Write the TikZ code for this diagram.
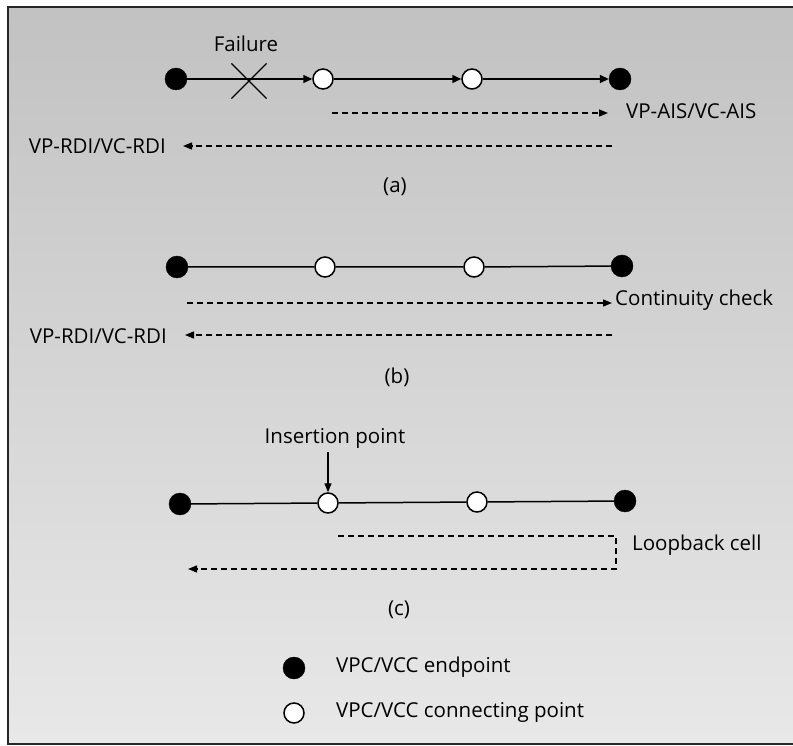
\documentclass[tikz,border=0pt]{standalone}
\usepackage{fontspec}
\setmainfont{Open Sans}
\usetikzlibrary{arrows.meta,shapes.misc}
\begin{document}
\begin{tikzpicture}[x=1pt,y=-1pt,
  endpt/.style={circle,fill=black,draw=black,minimum size=22pt,inner sep=0pt},
  conpt/.style={circle,fill=white,draw=black,line width=1.5pt,minimum size=20pt,inner sep=0pt},
  link/.style={line width=1.5pt},
  linkarr/.style={line width=1.5pt,-{Triangle[length=9pt,width=8pt]}},
  msg/.style={line width=1.4pt,dash pattern=on 6pt off 4pt,-{Triangle[length=9pt,width=7pt]}},
  lbl/.style={font=\fontsize{20.5}{24}\selectfont,inner sep=0pt},
  frameline/.style={line width=2pt,black!85}
]
% page and background
\useasboundingbox (0,0) rectangle (793,746);
\fill[white] (0,0) rectangle (793,746);
\shade[top color=black!24,bottom color=black!9] (8,8) rectangle (793,744);
\coordinate (ftr) at (793,7);
\coordinate (ftl) at (8,7);
\coordinate (fbl) at (8,744);
\coordinate (fbr) at (793,744);
\draw[frameline] (ftr) -- (ftl) -- (fbl) -- (fbr);

% ---------- (a) ----------
\node[endpt] (a1) at (176,79) {};
\node[conpt] (a2) at (323,79) {};
\node[conpt] (a3) at (472,79) {};
\node[endpt] (a4) at (620,79) {};
\draw[linkarr] (a1) -- (a2);
\draw[linkarr] (a2) -- (a3);
\draw[linkarr] (a3) -- (a4);
\node[cross out,draw=black,line width=1.1pt,minimum width=34pt,minimum height=34pt,inner sep=0pt] (fail) at (249,81) {};
\node[lbl] (failtxt) at (246,44) {Failure};

\coordinate (aisS) at (332,113);
\coordinate (aisE) at (608,113);
\draw[msg] (aisS) -- (aisE);
\node[lbl,anchor=west] (aistxt) at (626,111) {VP-AIS/VC-AIS};

\coordinate (rdiaS) at (612,146);
\node[lbl,anchor=east] (rdiatxt) at (166,146) {VP-RDI/VC-RDI};
\coordinate (rdiaE) at (183,146);
\draw[msg] (rdiaS) -- (rdiaE);

\node[lbl] (capa) at (395,187) {(a)};

% ---------- (b) ----------
\node[endpt] (b1) at (177,267) {};
\node[conpt] (b2) at (325,267) {};
\node[conpt] (b3) at (474,267) {};
\node[endpt] (b4) at (622,266) {};
\draw[link] (b1) -- (b2) -- (b3) -- (b4);

\coordinate (ccS) at (187,303);
\coordinate (ccE) at (612,303);
\draw[msg] (ccS) -- (ccE);
\node[lbl,anchor=west] (cctxt) at (615,300) {Continuity check};

\coordinate (rdibS) at (612,335);
\coordinate (rdibE) at (185,335);
\draw[msg] (rdibS) -- (rdibE);
\node[lbl,anchor=east] (rdibtxt) at (167,336) {VP-RDI/VC-RDI};

\node[lbl] (capb) at (397,377) {(b)};

% ---------- (c) ----------
\node[endpt] (c1) at (180,504) {};
\node[conpt] (c2) at (328,503) {};
\node[conpt] (c3) at (477,502) {};
\node[endpt] (c4) at (625,501) {};
\draw[link] (c1) -- (c2) -- (c3) -- (c4);

\node[lbl] (instxt) at (335,438) {Insertion point};
\coordinate (insS) at (328,452);
\draw[line width=1.3pt,-{Triangle[length=9pt,width=7pt]}] (insS) -- (c2.north);

\coordinate (lbS) at (338,536);
\coordinate (lbR1) at (616,536);
\coordinate (lbR2) at (616,569);
\coordinate (lbE) at (188,569);
\draw[msg] (lbS) -- (lbR1) -- (lbR2) -- (lbE);
\node[lbl,anchor=west] (lbtxt) at (632,545) {Loopback cell};

\node[lbl] (capc) at (399,610) {(c)};

% ---------- legend ----------
\node[endpt] (legE) at (294,668) {};
\node[lbl,anchor=west] (legEtxt) at (336,667) {VPC/VCC endpoint};
\node[conpt] (legC) at (294,713) {};
\node[lbl,anchor=west] (legCtxt) at (336,712) {VPC/VCC connecting point};
\end{tikzpicture}
\end{document}
